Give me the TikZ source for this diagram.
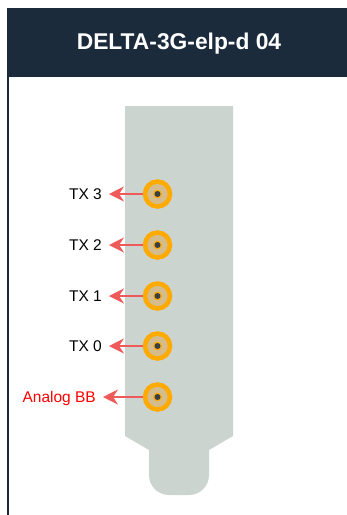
\documentclass[tikz,border=0pt]{standalone}
\usepackage{fontspec}
\setmainfont{Liberation Sans}
\usetikzlibrary{arrows.meta}
\definecolor{headbg}{HTML}{1C2B3C}
\definecolor{plate}{HTML}{CBD4CE}
\definecolor{ringc}{HTML}{FFAA00}
\definecolor{tanc}{HTML}{D4BC8C}
\definecolor{dotc}{HTML}{3A3F44}
\definecolor{arrowc}{HTML}{EE5A5A}
\tikzset{
  x=1pt,y=-1pt,
  port/.style={circle,draw=ringc,line width=4.5pt,fill=tanc,minimum size=25pt,inner sep=0pt},
  portlabel/.style={anchor=east,inner xsep=7pt,inner ysep=0pt,text height=11pt,text depth=0pt,font=\fontsize{15.5pt}{18pt}\selectfont},
  link/.style={draw=arrowc,line width=1.4pt,-{Stealth[length=15pt,width=15pt,inset=5pt]}}
}
\begin{document}
\begin{tikzpicture}
\useasboundingbox (0,0) rectangle (347,515);
\fill[white] (0,0) rectangle (347,515);
\fill[headbg] (7,8) rectangle (347,77);
\fill[headbg] (7,77) rectangle (9.3,515);
\node[text=white,text height=16.5pt,text depth=0pt,inner ysep=0pt,font=\bfseries\fontsize{22.8pt}{26pt}\selectfont] (title) at (179,41.5) {DELTA-3G-elp-d 04};
\fill[plate] (125,106) -- (233,106) -- (233,436) -- (209,450) -- (209,475)
  arc[start angle=0,end angle=90,radius=20] -- (169,495)
  arc[start angle=90,end angle=180,radius=20] -- (149,450) -- (125,436) -- cycle;
\foreach \n/\yy/\tx/\t/\col in {3/194/109/TX 3/black,2/245/109/TX 2/black,1/296/109/TX 1/black,0/346/109/TX 0/black,9/397/103/Analog BB/red}{
  \node[port] (c\n) at (157.5,\yy) {};
  \fill[ringc] (c\n.center) circle[radius=4.3];
  \fill[dotc] (c\n.center) circle[radius=3];
  \node[portlabel,text=\col] (l\n) at (\tx,\yy) {\t};
  \draw[link] (c\n) -- (l\n.east);
}
\end{tikzpicture}
\end{document}
